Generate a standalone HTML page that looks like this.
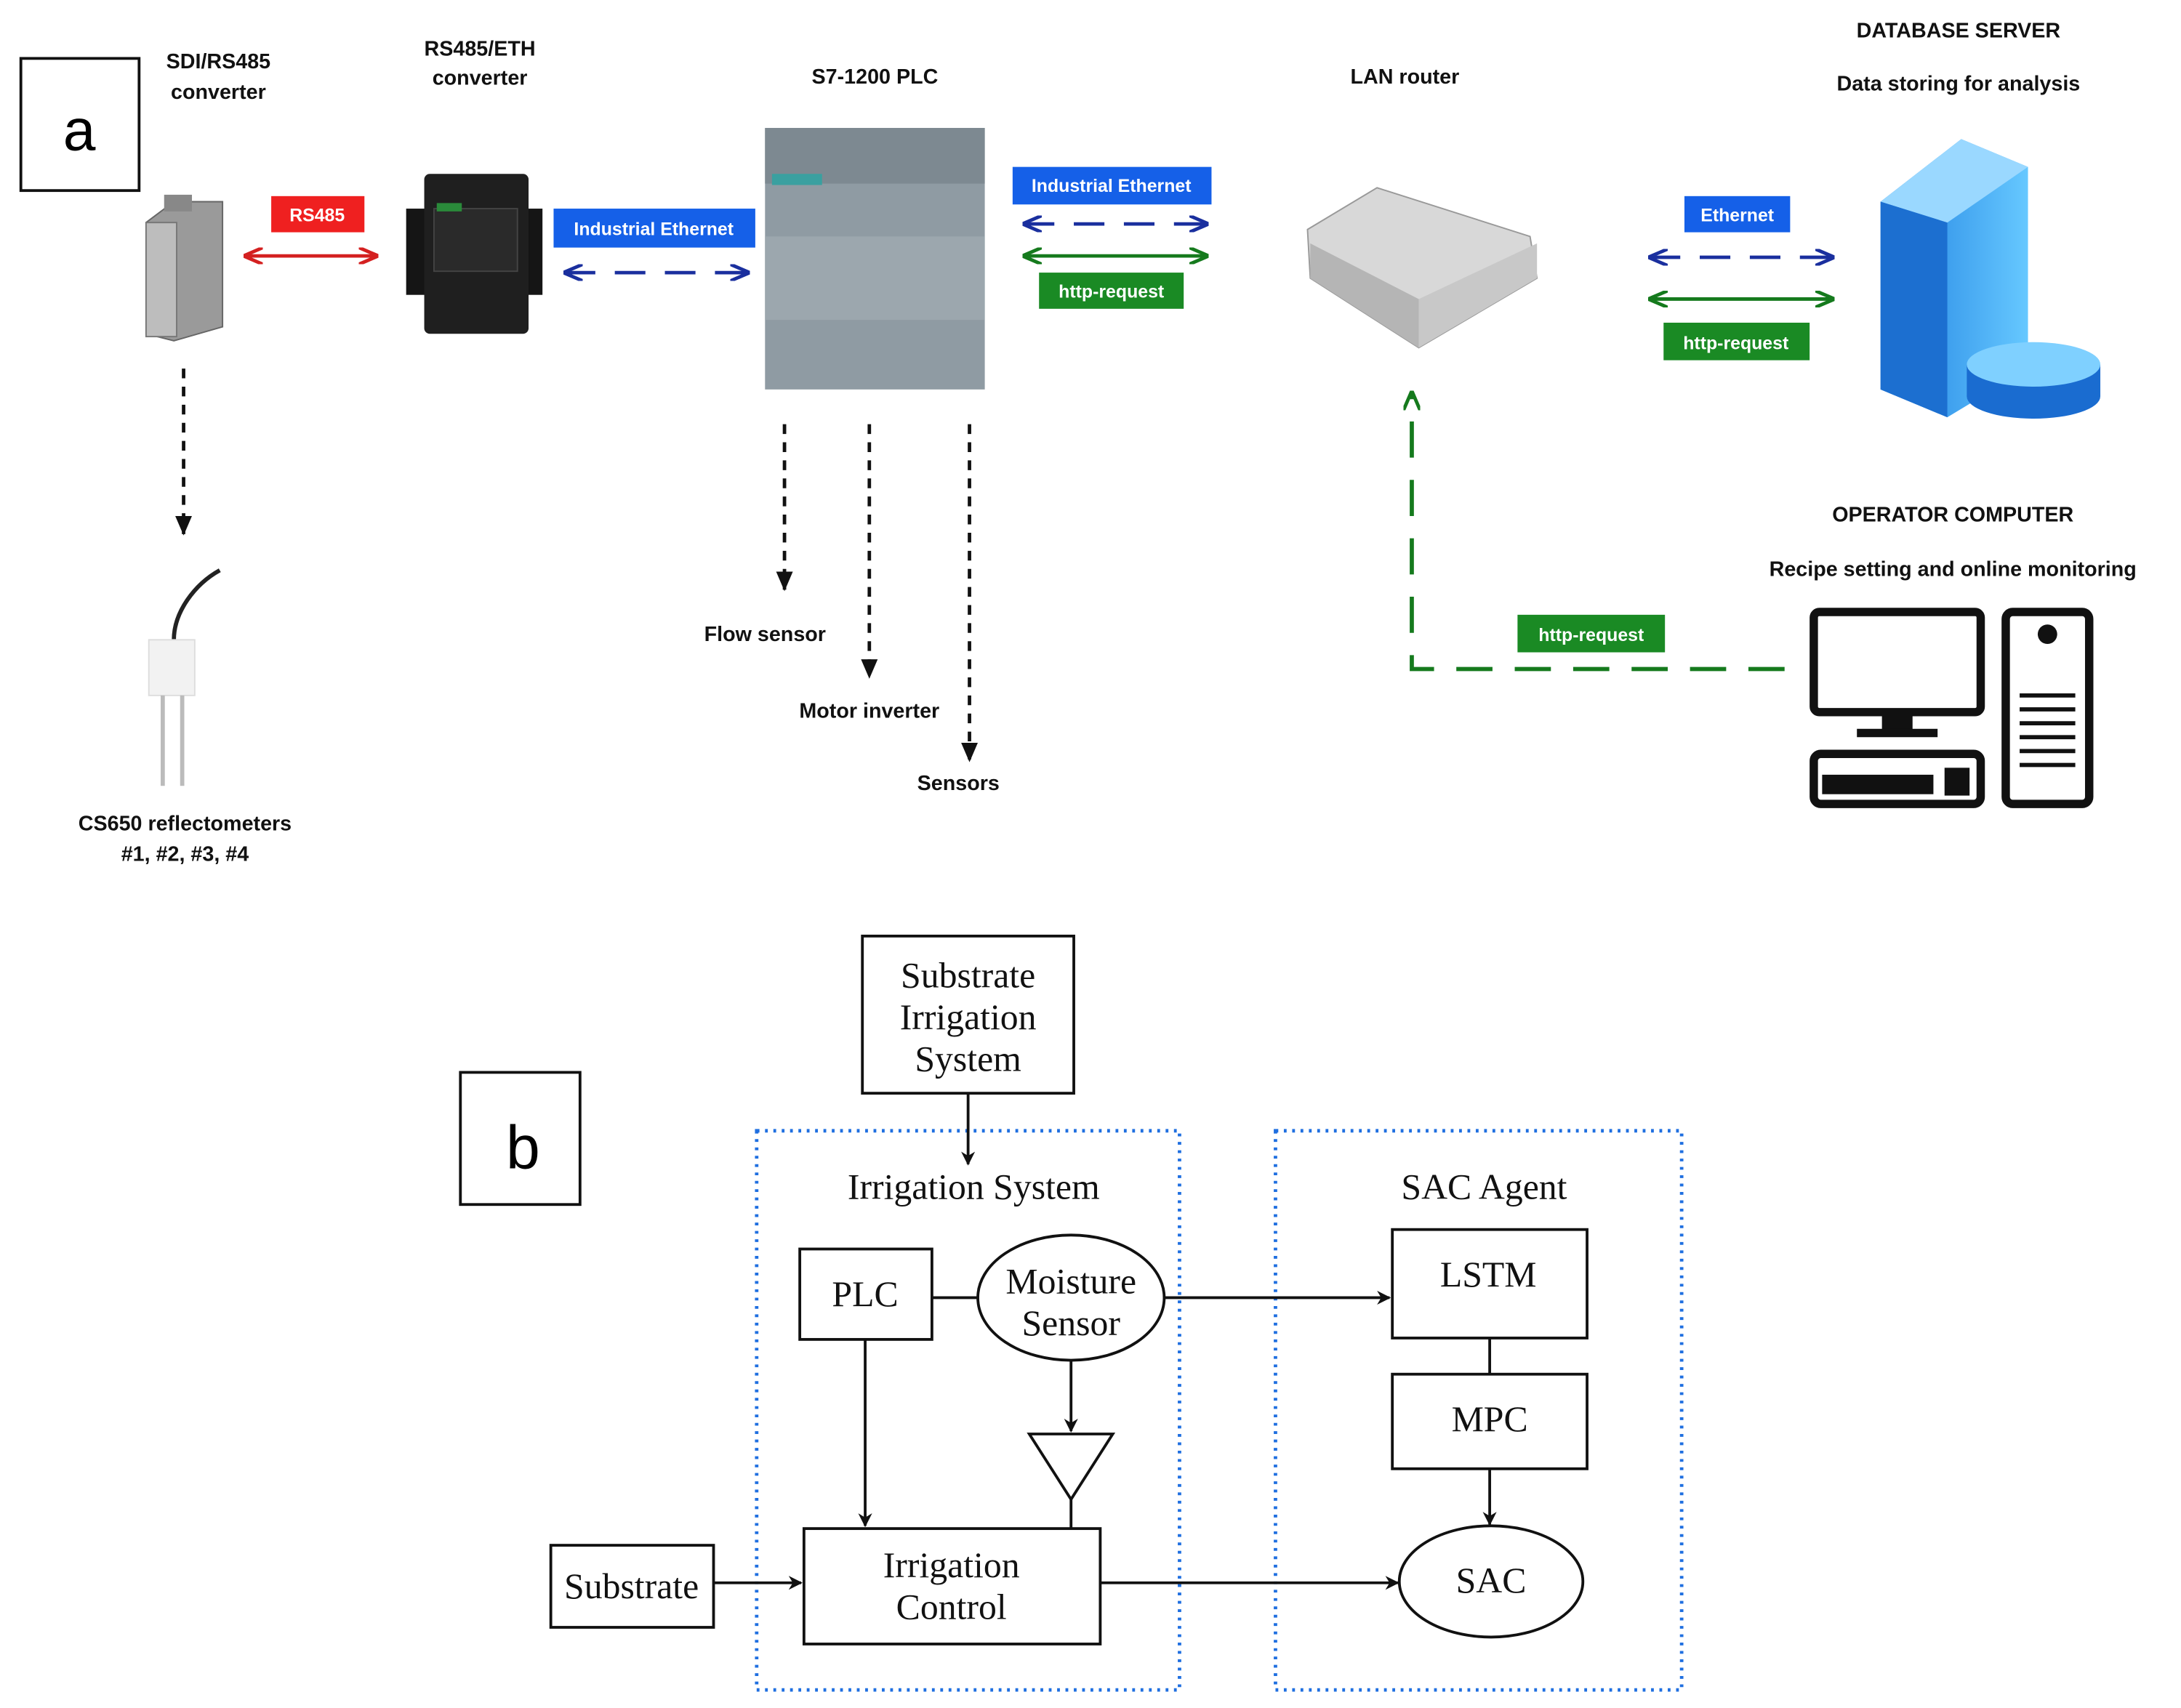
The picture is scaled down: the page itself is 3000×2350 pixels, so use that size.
<!DOCTYPE html>
<html><head><meta charset="utf-8"><style>
html,body{margin:0;padding:0;background:#fff;}
svg{display:block;}
.t{font-family:"Liberation Sans",Arial,sans-serif;font-weight:bold;font-size:15px;fill:#111;text-anchor:middle;}
.l{font-family:"Liberation Sans",Arial,sans-serif;font-weight:bold;font-size:13px;fill:#fff;text-anchor:middle;}
.s{font-family:"Liberation Serif","Times New Roman",serif;font-size:26px;fill:#111;text-anchor:middle;}
</style></head><body>
<svg width="3000" height="2350" viewBox="0 0 1568 1228" preserveAspectRatio="none" xmlns="http://www.w3.org/2000/svg">
<defs>
<marker id="ak" markerWidth="10" markerHeight="10" refX="9" refY="5" orient="auto" markerUnits="userSpaceOnUse"><path d="M0,0 L10,5 L0,10 L3,5z" fill="#111"/></marker>
<marker id="ab" markerWidth="14" markerHeight="12" refX="13" refY="6" orient="auto-start-reverse" markerUnits="userSpaceOnUse"><path d="M0,0 L14,6 L0,12" fill="none" stroke="#1a2f9e" stroke-width="2.5"/></marker>
<marker id="ag" markerWidth="14" markerHeight="12" refX="13" refY="6" orient="auto-start-reverse" markerUnits="userSpaceOnUse"><path d="M0,0 L14,6 L0,12" fill="none" stroke="#157a1d" stroke-width="2.5"/></marker>
<marker id="ar" markerWidth="14" markerHeight="12" refX="13" refY="6" orient="auto-start-reverse" markerUnits="userSpaceOnUse"><path d="M0,0 L14,6 L0,12" fill="none" stroke="#d42020" stroke-width="2.5"/></marker>
<marker id="as" markerWidth="14" markerHeight="12" refX="13" refY="6" orient="auto" markerUnits="userSpaceOnUse"><path d="M0,0 L14,6 L0,12z" fill="#111"/></marker>
<linearGradient id="srv" x1="0" x2="1"><stop offset="0" stop-color="#1e7fe0"/><stop offset="1" stop-color="#66c8ff"/></linearGradient>
</defs>

<!-- part a -->
<rect x="15" y="42" width="85" height="95" fill="none" stroke="#111" stroke-width="2"/>
<text x="57" y="108" style="font-family:'Liberation Sans',sans-serif;font-size:42px;" text-anchor="middle">a</text>

<text class="t" x="157" y="49">SDI/RS485</text><text class="t" x="157" y="71">converter</text>
<text class="t" x="345" y="40">RS485/ETH</text><text class="t" x="345" y="61">converter</text>
<text class="t" x="629" y="60">S7-1200 PLC</text>
<text class="t" x="1010" y="60">LAN router</text>
<text class="t" x="1408" y="27">DATABASE SERVER</text>
<text class="t" x="1408" y="65">Data storing for analysis</text>
<text class="t" x="1404" y="375">OPERATOR COMPUTER</text>
<text class="t" x="1404" y="414">Recipe setting and online monitoring</text>

<!-- SDI converter -->
<path d="M105,160 L125,145 L160,145 L160,235 L125,245 L105,240z" fill="#9a9a9a" stroke="#666"/>
<rect x="105" y="160" width="22" height="82" fill="#bdbdbd" stroke="#777"/>
<rect x="118" y="140" width="20" height="12" fill="#888"/>

<!-- NPort -->
<rect x="292" y="150" width="98" height="62" fill="#151515"/>
<rect x="305" y="125" width="75" height="115" rx="4" fill="#1f1f1f"/>
<rect x="312" y="150" width="60" height="45" fill="#2a2a2a" stroke="#444"/>
<rect x="314" y="146" width="18" height="6" fill="#2a8a3a"/>

<!-- PLC -->
<rect x="550" y="92" width="158" height="188" fill="#8f9ba3"/>
<rect x="550" y="92" width="158" height="40" fill="#7d8991"/>
<rect x="550" y="170" width="158" height="60" fill="#9ca7ae"/>
<rect x="555" y="125" width="36" height="8" fill="#3aa0a0"/>

<!-- Router -->
<path d="M940,165 L990,135 L1100,170 L1105,200 L1020,250 L942,200z" fill="#d8d8d8" stroke="#999"/>
<path d="M942,175 L1020,215 L1020,250 L942,200z" fill="#b5b5b5"/>
<path d="M1020,215 L1105,175 L1105,200 L1020,250z" fill="#c8c8c8"/>

<!-- Server -->
<path d="M1352,145 L1410,100 L1458,120 L1458,265 L1400,300 L1352,280z" fill="url(#srv)"/>
<path d="M1352,145 L1410,100 L1458,120 L1400,160z" fill="#9ad8ff"/>
<path d="M1352,145 L1400,160 L1400,300 L1352,280z" fill="#1c6fd0"/>
<ellipse cx="1462" cy="285" rx="48" ry="16" fill="#1a6cd0"/>
<rect x="1414" y="262" width="96" height="23" fill="#1a6cd0"/>
<ellipse cx="1462" cy="262" rx="48" ry="16" fill="#7fd0ff"/>

<!-- Computer -->
<rect x="1304" y="440" width="120" height="72" rx="4" fill="#fff" stroke="#111" stroke-width="6"/>
<rect x="1353" y="512" width="22" height="14" fill="#111"/>
<rect x="1335" y="524" width="58" height="6" fill="#111"/>
<rect x="1304" y="542" width="120" height="36" rx="5" fill="#fff" stroke="#111" stroke-width="6"/>
<rect x="1310" y="557" width="80" height="14" fill="#111"/>
<rect x="1398" y="552" width="18" height="20" fill="#111"/>
<rect x="1442" y="440" width="60" height="138" rx="5" fill="#fff" stroke="#111" stroke-width="6"/>
<circle cx="1472" cy="456" r="7" fill="#111"/>
<g stroke="#111" stroke-width="3"><line x1="1452" y1="500" x2="1492" y2="500"/><line x1="1452" y1="510" x2="1492" y2="510"/><line x1="1452" y1="520" x2="1492" y2="520"/><line x1="1452" y1="530" x2="1492" y2="530"/><line x1="1452" y1="540" x2="1492" y2="540"/><line x1="1452" y1="550" x2="1492" y2="550"/></g>

<!-- Sensor probe -->
<path d="M125,460 C125,440 140,420 158,410" fill="none" stroke="#222" stroke-width="3"/>
<rect x="107" y="460" width="33" height="40" fill="#f2f2f2" stroke="#ddd"/>
<line x1="117" y1="500" x2="117" y2="565" stroke="#bbb" stroke-width="3"/>
<line x1="131" y1="500" x2="131" y2="565" stroke="#bbb" stroke-width="3"/>
<text class="t" x="133" y="597">CS650 reflectometers</text>
<text class="t" x="133" y="619">#1, #2, #3, #4</text>

<!-- connectors a -->
<line x1="176" y1="184" x2="271" y2="184" stroke="#d42020" stroke-width="2.5" marker-start="url(#ar)" marker-end="url(#ar)"/>
<rect x="195" y="141" width="67" height="26" fill="#ef2020"/><text class="l" x="228" y="159">RS485</text>

<line x1="406" y1="196" x2="538" y2="196" stroke="#1a2f9e" stroke-width="2.5" stroke-dasharray="22,14" marker-start="url(#ab)" marker-end="url(#ab)"/>
<rect x="398" y="150" width="145" height="28" fill="#1560e8"/><text class="l" x="470" y="169">Industrial Ethernet</text>

<rect x="728" y="120" width="143" height="27" fill="#1560e8"/><text class="l" x="799" y="138">Industrial Ethernet</text>
<line x1="736" y1="161" x2="868" y2="161" stroke="#1a2f9e" stroke-width="2.5" stroke-dasharray="22,14" marker-start="url(#ab)" marker-end="url(#ab)"/>
<line x1="736" y1="184" x2="868" y2="184" stroke="#157a1d" stroke-width="2.5" marker-start="url(#ag)" marker-end="url(#ag)"/>
<rect x="747" y="196" width="104" height="26" fill="#1a8a24"/><text class="l" x="799" y="214">http-request</text>

<rect x="1211" y="141" width="76" height="26" fill="#1560e8"/><text class="l" x="1249" y="159">Ethernet</text>
<line x1="1186" y1="185" x2="1318" y2="185" stroke="#1a2f9e" stroke-width="2.5" stroke-dasharray="22,14" marker-start="url(#ab)" marker-end="url(#ab)"/>
<line x1="1186" y1="215" x2="1318" y2="215" stroke="#157a1d" stroke-width="2.5" marker-start="url(#ag)" marker-end="url(#ag)"/>
<rect x="1196" y="232" width="105" height="27" fill="#1a8a24"/><text class="l" x="1248" y="251">http-request</text>

<path d="M1283,481 L1015,481 L1015,282" fill="none" stroke="#157a1d" stroke-width="3" stroke-dasharray="26,16" marker-end="url(#ag)"/>
<rect x="1091" y="442" width="106" height="27" fill="#1a8a24"/><text class="l" x="1144" y="461">http-request</text>

<g stroke="#111" stroke-width="2.5" stroke-dasharray="7,6" fill="none">
<line x1="132" y1="265" x2="132" y2="384" marker-end="url(#as)"/>
<line x1="564" y1="305" x2="564" y2="424" marker-end="url(#as)"/>
<line x1="625" y1="305" x2="625" y2="487" marker-end="url(#as)"/>
<line x1="697" y1="305" x2="697" y2="547" marker-end="url(#as)"/>
</g>
<text class="t" x="550" y="461">Flow sensor</text>
<text class="t" x="625" y="516">Motor inverter</text>
<text class="t" x="689" y="568">Sensors</text>

<!-- part b -->
<rect x="331" y="771" width="86" height="95" fill="none" stroke="#111" stroke-width="2"/>
<text x="376" y="840" style="font-family:'Liberation Sans',sans-serif;font-size:44px;" text-anchor="middle">b</text>

<rect x="544" y="813" width="304" height="402" fill="none" stroke="#1f6fe0" stroke-width="2.5" stroke-dasharray="2,4"/>
<rect x="917" y="813" width="292" height="402" fill="none" stroke="#1f6fe0" stroke-width="2.5" stroke-dasharray="2,4"/>

<g fill="none" stroke="#111" stroke-width="2">
<rect x="620" y="673" width="152" height="113"/>
<rect x="575" y="898" width="95" height="65"/>
<ellipse cx="770" cy="933" rx="67" ry="45"/>
<rect x="1001" y="884" width="140" height="78"/>
<rect x="1001" y="988" width="140" height="68"/>
<ellipse cx="1072" cy="1137" rx="66" ry="40"/>
<rect x="578" y="1099" width="213" height="83"/>
<rect x="396" y="1111" width="117" height="59"/>
<path d="M740,1031 L800,1031 L770,1078z"/>
<line x1="670" y1="933" x2="703" y2="933"/>
<line x1="1071" y1="962" x2="1071" y2="988"/>
<line x1="770" y1="1078" x2="770" y2="1099"/>
<line x1="696" y1="786" x2="696" y2="837" marker-end="url(#ak)"/>
<line x1="837" y1="933" x2="999" y2="933" marker-end="url(#ak)"/>
<line x1="1071" y1="1056" x2="1071" y2="1096" marker-end="url(#ak)"/>
<line x1="770" y1="978" x2="770" y2="1029" marker-end="url(#ak)"/>
<line x1="622" y1="963" x2="622" y2="1097" marker-end="url(#ak)"/>
<line x1="791" y1="1138" x2="1005" y2="1138" marker-end="url(#ak)"/>
<line x1="513" y1="1138" x2="576" y2="1138" marker-end="url(#ak)"/>
</g>

<text class="s" x="696" y="710">Substrate</text>
<text class="s" x="696" y="740">Irrigation</text>
<text class="s" x="696" y="770">System</text>
<text class="s" x="700" y="862">Irrigation System</text>
<text class="s" x="1067" y="862">SAC Agent</text>
<text class="s" x="622" y="939">PLC</text>
<text class="s" x="770" y="930">Moisture</text>
<text class="s" x="770" y="960">Sensor</text>
<text class="s" x="1070" y="925">LSTM</text>
<text class="s" x="1071" y="1029">MPC</text>
<text class="s" x="1072" y="1145">SAC</text>
<text class="s" x="684" y="1134">Irrigation</text>
<text class="s" x="684" y="1164">Control</text>
<text class="s" x="454" y="1149">Substrate</text>
</svg>
</body></html>
